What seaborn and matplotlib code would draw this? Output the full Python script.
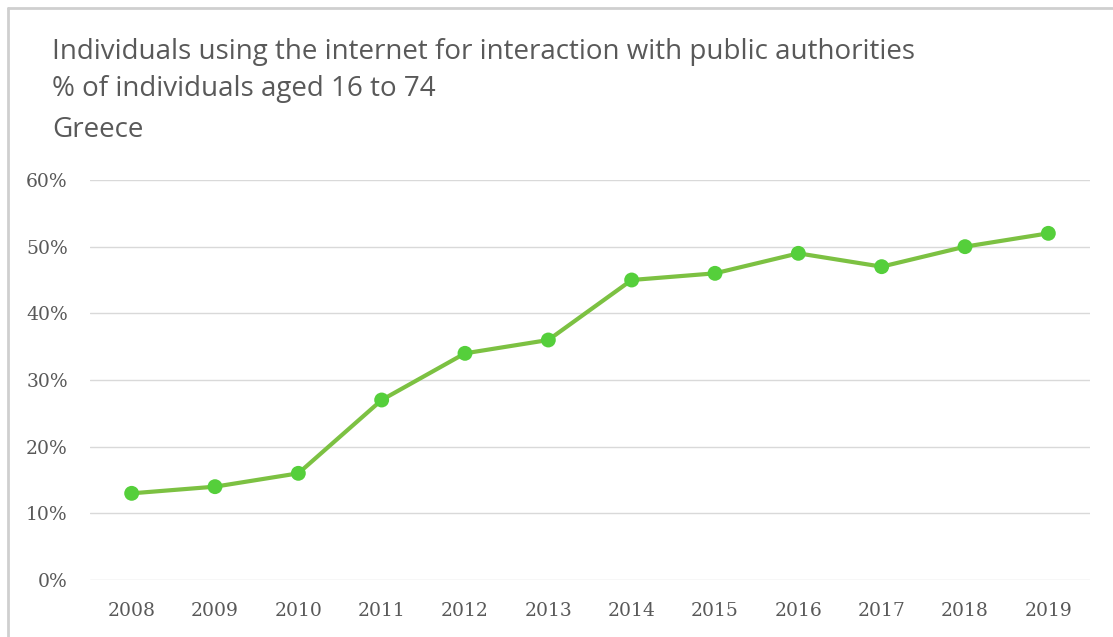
import matplotlib
matplotlib.use("Agg")
import matplotlib.pyplot as plt
from matplotlib.lines import Line2D
from matplotlib.ticker import PercentFormatter
import seaborn as sns
import pandas as pd

years = ["2008", "2009", "2010", "2011", "2012", "2013",
         "2014", "2015", "2016", "2017", "2018", "2019"]
share = [13, 14, 16, 27, 34, 36, 45, 46, 49, 47, 50, 52]
title_lines = [
    "Individuals using the internet for interaction with public authorities",
    "% of individuals aged 16 to 74",
    "Greece",
]
y_ticks = [0, 10, 20, 30, 40, 50, 60]

df = pd.DataFrame({"year": years, "share": share})

sns.set_theme(style="white")
plt.rcParams["font.family"] = ["Open Sans", "DejaVu Sans"]

fig = plt.figure(figsize=(11.13, 6.37), dpi=100)
ax = fig.add_axes([90 / 1113, 1 - 580 / 637, 1000 / 1113, 400 / 637])

sns.lineplot(data=df, x="year", y="share", ax=ax, color="#7cc142",
             linewidth=3.0, sort=False, zorder=3)
sns.scatterplot(data=df, x="year", y="share", ax=ax, color="#55cf3b",
                s=115, edgecolor="none", zorder=4)

ax.set_xlim(-0.5, len(years) - 0.5)
ax.set_ylim(0, 60)
ax.set_yticks(y_ticks)
ax.yaxis.set_major_formatter(PercentFormatter(decimals=0))
ax.grid(axis="y", color="#d9d9d9", linewidth=1.0)
ax.grid(axis="x", visible=False)
for s in ax.spines.values():
    s.set_visible(False)
ax.set_xlabel("")
ax.set_ylabel("")
ax.tick_params(axis="both", length=0, colors="#595959", labelsize=13.5)
ax.tick_params(axis="x", pad=16)
ax.tick_params(axis="y", pad=16)
for lab in ax.get_xticklabels() + ax.get_yticklabels():
    lab.set_fontfamily(["DejaVu Serif"])

# chart title block
for txt, ypix in zip(title_lines, [52, 89, 130]):
    fig.text(52 / 1113, 1 - ypix / 637, txt, fontsize=20, color="#595959",
             va="center", ha="left")

# chart-area frame (top and left edges)
fig.add_artist(Line2D([8 / 1113, 1.0], [1 - 8 / 637, 1 - 8 / 637],
                      transform=fig.transFigure, color="#cfcfcf", linewidth=2))
fig.add_artist(Line2D([8 / 1113, 8 / 1113], [0, 1 - 8 / 637],
                      transform=fig.transFigure, color="#cfcfcf", linewidth=2))

fig.savefig("out.png", dpi=100, facecolor="white")
